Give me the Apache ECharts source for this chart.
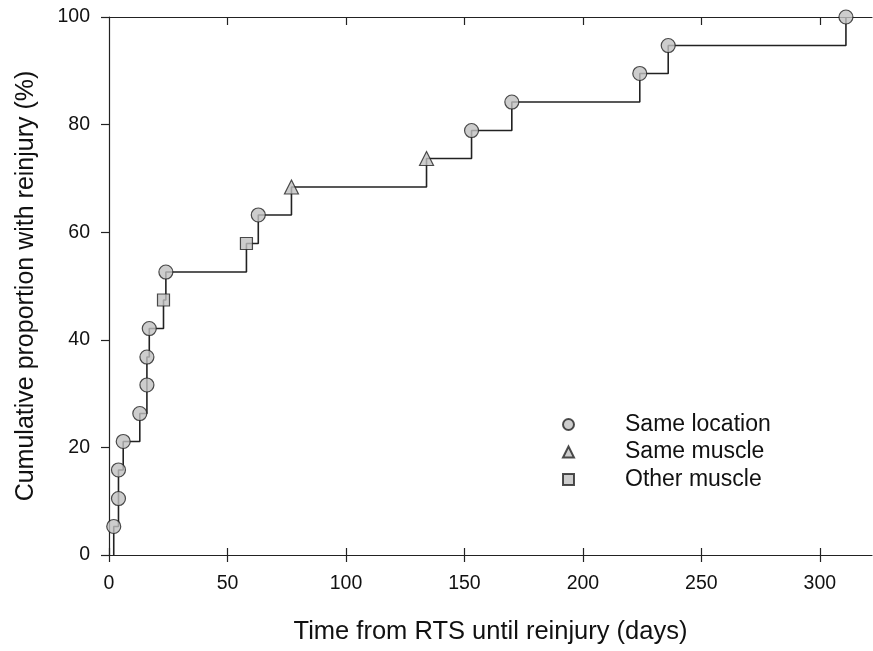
<!DOCTYPE html>
<html>
<head>
<meta charset="utf-8">
<script src="https://cdn.jsdelivr.net/npm/echarts@6/dist/echarts.min.js"></script>
<style>
  html, body { margin: 0; padding: 0; background: #fff; }
  #chart { width: 873px; height: 651px; }
</style>
</head>
<body>
<div id="chart"></div>
<script>
// days from RTS to reinjury, cumulative proportion (%) and reinjury type
var days = [2, 4, 4, 6, 13, 16, 16, 17, 23, 24, 58, 63, 77, 134, 153, 170, 224, 236, 311];
var proportion = [5.3, 10.5, 15.8, 21.1, 26.3, 31.6, 36.8, 42.1, 47.4, 52.6, 57.9, 63.2, 68.4, 73.7, 78.9, 84.2, 89.5, 94.7, 100];
var types = ['loc', 'loc', 'loc', 'loc', 'loc', 'loc', 'loc', 'loc', 'other', 'loc',
             'other', 'loc', 'muscle', 'muscle', 'loc', 'loc', 'loc', 'loc', 'loc'];
var xTicks = [0, 50, 100, 150, 200, 250, 300];
var yTicks = [0, 20, 40, 60, 80, 100];

var typeNames = { loc: 'Same location', muscle: 'Same muscle', other: 'Other muscle' };
var font = "'Liberation Sans', Arial, sans-serif";
var ink = '#222';
var fill = '#c0c0c0';

// step line starts at zero at the first reinjury
var stepData = [[days[0], 0]];
days.forEach(function (d, i) { stepData.push([d, proportion[i]]); });

function pointsOf(t) {
  var out = [];
  days.forEach(function (d, i) { if (types[i] === t) out.push([d, proportion[i]]); });
  return out;
}

function markerSeries(t, symbol, size) {
  return {
    name: typeNames[t],
    type: 'scatter',
    symbol: symbol,
    symbolSize: size,
    z: 5,
    itemStyle: { color: fill, borderColor: ink, borderWidth: 1.2 },
    data: pointsOf(t)
  };
}

var chart = echarts.init(document.getElementById('chart'));
chart.setOption({
  animation: false,
  textStyle: { fontFamily: font },
  grid: { left: 109, right: 1, top: 17, bottom: 96 },
  legend: {
    orient: 'vertical',
    left: 557,
    top: 408,
    itemWidth: 11,
    itemHeight: 11,
    itemGap: 4.5,
    data: [typeNames.loc, typeNames.muscle, typeNames.other],
    textStyle: { fontFamily: font, fontSize: 23, lineHeight: 23, color: '#111', padding: [0, 0, 0, 46] }
  },
  xAxis: [
    {
      type: 'value', min: 0, max: 322, interval: 50, position: 'bottom',
      name: 'Time from RTS until reinjury (days)', nameLocation: 'middle', nameGap: 64,
      nameTextStyle: { fontFamily: font, fontSize: 25.5, color: '#111' },
      axisLine: { show: true, lineStyle: { color: ink, width: 1.2 } },
      axisTick: { show: true, inside: false, length: 7, customValues: xTicks, lineStyle: { color: ink, width: 1.2 } },
      axisLabel: { fontSize: 19.5, color: '#111', margin: 19, fontFamily: font, customValues: xTicks },
      splitLine: { show: false }
    },
    {
      type: 'value', min: 0, max: 322, interval: 50, position: 'top',
      axisLine: { show: true, lineStyle: { color: ink, width: 1.2 } },
      axisTick: { show: true, inside: true, length: 8, customValues: xTicks.slice(1), lineStyle: { color: ink, width: 1.2 } },
      axisLabel: { show: false },
      splitLine: { show: false }
    },
    {
      type: 'value', min: 0, max: 322, interval: 50, position: 'bottom', offset: 0,
      axisLine: { show: false },
      axisTick: { show: true, inside: true, length: 7, customValues: xTicks, lineStyle: { color: ink, width: 1.2 } },
      axisLabel: { show: false },
      splitLine: { show: false }
    }
  ],
  yAxis: {
    type: 'value', min: 0, max: 100, interval: 20,
    name: 'Cumulative proportion with reinjury (%)', nameLocation: 'middle', nameGap: 70,
    nameTextStyle: { fontFamily: font, fontSize: 25, color: '#111' },
    axisLine: { show: true, lineStyle: { color: ink, width: 1.2 } },
    axisTick: { show: true, inside: false, length: 8, customValues: yTicks, lineStyle: { color: ink, width: 1.2 } },
    axisLabel: { fontSize: 19.5, color: '#111', margin: 19, fontFamily: font, customValues: yTicks },
    splitLine: { show: false }
  },
  series: [
    {
      name: 'step',
      type: 'line',
      step: 'end',
      symbol: 'none',
      z: 2,
      lineStyle: { color: ink, width: 1.6 },
      data: stepData
    },
    markerSeries('loc', 'circle', 14),
    markerSeries('muscle', 'triangle', 14),
    markerSeries('other', 'rect', 12)
  ]
});
</script>
</body>
</html>
